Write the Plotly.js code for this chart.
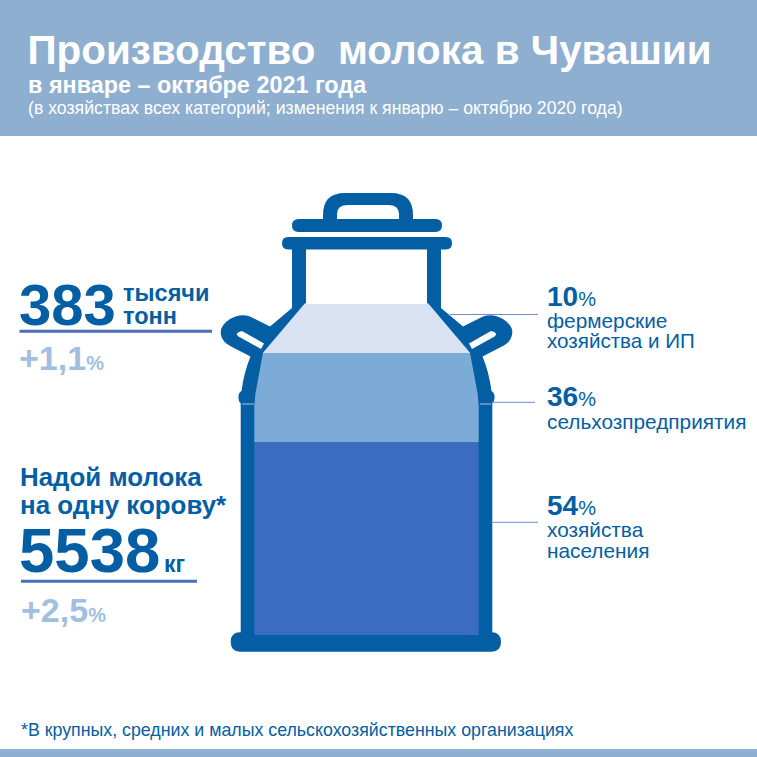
<!DOCTYPE html>
<html><head><meta charset="utf-8">
<script src="https://cdn.plot.ly/plotly-3.0.1.min.js"></script>
<style>html,body{margin:0;padding:0;background:#fff}#c{width:757px;height:757px}</style>
</head><body><div id="c"></div>
<script>
// --- data ---
const shareNames = [['хозяйства', 'населения'], ['сельхозпредприятия'], ['фермерские', 'хозяйства и ИП']];
const sharePercent = [54, 36, 10];
const bandDrawnHeights = [193.3, 89, 48.7]; // pictogram levels as drawn (not to scale in the source)
const bandColors = ['#3c6cc0', '#7dabd8', '#d9e2f3'];
const totalValue = '383', totalUnit = ['тысячи', 'тонн'], totalChange = '+1,1';
const yieldTitle = ['Надой молока', 'на одну корову*'];
const yieldValue = '5538', yieldUnit = 'кг', yieldChange = '+2,5';

const DARK = '#045ea3', HEAD = '#8eafd0', LIGHT = '#a1bfe0', RULE = '#4a6fb5', LEAD = '#6f8fcc';
const FONT = '"Liberation Sans", Arial, sans-serif';

const traces = sharePercent.map((p, i) => ({
  type: 'bar', x: [367.15], y: [bandDrawnHeights[i]], width: [225.7],
  marker: {color: bandColors[i], line: {width: 0}}, name: p + '%', hoverinfo: 'skip', showlegend: false
}));

function solid(path, color) {
  return {type: 'path', path, xref: 'x', yref: 'y2', fillcolor: color, line: {width: 0}, layer: 'above'};
}
function rect(x0, y0, x1, y1, color) {
  return {type: 'rect', xref: 'x', yref: 'y2', x0, y0, x1, y1, fillcolor: color, line: {width: 0}, layer: 'above'};
}
function rule(x0, x1, y, color, w) {
  return {type: 'line', xref: 'x', yref: 'y2', x0, x1, y0: y, y1: y, line: {color, width: w}, layer: 'above'};
}
function pill(x0, x1, y0, y1, color) {
  const r = (y1 - y0) / 2;
  return solid(`M${x0 + r},${y0} L${x1 - r},${y0} Q${x1},${y0} ${x1},${y0 + r} Q${x1},${y1} ${x1 - r},${y1} L${x0 + r},${y1} Q${x0},${y1} ${x0},${y0 + r} Q${x0},${y0} ${x0 + r},${y0} Z`, color);
}
// mirrored can sides around the vertical axis
const mx = x => +(733 - x).toFixed(1);
function sidePath(f) {
  return `M${f(292)},249 L${f(292)},308 L${f(270)},326.5 L${f(250)},316.5 Q${f(240)},313 ${f(230)},319 `
    + `Q${f(219)},326 ${f(221)},335 Q${f(222)},342 ${f(232)},347 L${f(250.5)},356.5 `
    + `Q${f(244)},372 ${f(241.5)},391 Q${f(238)},393 ${f(238.5)},398 Q${f(239)},403 ${f(240.7)},403 `
    + `L${f(240.7)},640 L${f(254.3)},640 L${f(254.3)},406 L${f(255.5)},393 L${f(263)},352.7 L${f(304.3)},304 L${f(306)},303 L${f(306)},249 Z`;
}
function slotPath(f) {
  return `M${f(242)},331 L${f(264)},343.5 L${f(261)},349 L${f(238.5)},336.5 Q${f(234)},333 ${f(242)},331 Z`;
}
function maskPath(f) {
  return `M${f(250)},303 L${f(304.3)},303 L${f(263)},352.7 L${f(250)},352.7 Z`;
}
const basePath = 'M240,632.3 L491.5,632.3 Q501,632.3 501,642 Q501,651.7 491.5,651.7 L240,651.7 Q230.7,651.7 230.7,642 Q230.7,632.3 240,632.3 Z';

const shapes = [
  rect(0, 0, 757, 136, HEAD),
  rect(0, 749, 757, 757, HEAD),
  solid(maskPath(x => x), '#ffffff'),
  solid(maskPath(mx), '#ffffff'),
  solid(basePath, DARK),
  // base plate reaches up to 632 only outside the walls: the lowest band shows down to 635
  rect(254.3, 632, 480, 635, bandColors[0]),
  solid(sidePath(x => x), DARK),
  solid(sidePath(mx), DARK),
  solid(slotPath(x => x), '#ffffff'),
  solid(slotPath(mx), '#ffffff'),
  // lid + knob
  solid('M323,222 L323,215 Q323,193 345,193 L391,193 Q413,193 413,215 L413,222 L399,222 L399,219 L399,214 Q399,205 388,205 L348,205 Q337,205 337,214 L337,222 Z', DARK),
  pill(292, 442, 219, 232, DARK),
  pill(282, 452, 237, 249.5, DARK),
  // seams on the can wall
  rule(242, 254, 404, '#a9c4dc', 1),
  rule(480, 491, 404, '#a9c4dc', 1),
  // leaders and underlines
  rule(450, 538, 314.5, LEAD, 1),
  rule(492, 535, 402.3, LEAD, 1),
  rule(491.5, 538, 522.3, LEAD, 1),
  rule(19.5, 212, 331.3, RULE, 3),
  rule(21, 197, 581.3, RULE, 3)
];

function t(x, y, text, size, color, bold) {
  return {xref: 'x', yref: 'y2', x, y, xanchor: 'left', yanchor: 'middle', showarrow: false, align: 'left', borderpad: 0,
    text: bold ? `<b>${text}</b>` : text, font: {family: FONT, size, color}};
}
const pct = (n, s2) => `<b>${n}</b><span style="font-size:${s2}px">%</span>`;

const annotations = [
  t(27, 85, 'в январе – октябре 2021 года', 23.4, '#ffffff', true),
  t(27, 108, '(в хозяйствах всех категорий; изменения к январю – октябрю 2020 года)', 17.7, '#ffffff', false),

  t(18, 304, totalValue, 58, DARK, true),
  t(121.5, 293, totalUnit[0], 23.5, DARK, true),
  t(121.5, 316, totalUnit[1], 23.5, DARK, true),
  t(18, 358, `<b>${totalChange}</b><span style="font-size:20px"><b>%</b></span>`, 34, LIGHT, false),

  t(19, 477, yieldTitle[0], 25.9, DARK, true),
  t(19, 505, yieldTitle[1], 25.9, DARK, true),
  t(18, 550, yieldValue, 63.5, DARK, true),
  t(162.5, 564, yieldUnit, 23, DARK, true),
  t(20, 610, `<b>${yieldChange}</b><span style="font-size:20px"><b>%</b></span>`, 34, LIGHT, false),

  t(546, 296, pct(sharePercent[2], 20), 28, DARK, false),
  t(546, 320, shareNames[2][0], 20.8, DARK, false),
  t(546, 340, shareNames[2][1], 20.6, DARK, false),
  t(546, 396, pct(sharePercent[1], 20), 28, DARK, false),
  t(546, 421, shareNames[1][0], 20.8, DARK, false),
  t(546, 505, pct(sharePercent[0], 20), 28, DARK, false),
  t(546, 529, shareNames[0][0], 20.8, DARK, false),
  t(546, 550, shareNames[0][1], 20.8, DARK, false),

  t(20, 730, '*В крупных, средних и малых сельскохозяйственных организациях', 17.8, DARK, false)
];

const layout = {
  width: 757, height: 757, autosize: false,
  margin: {l: 0, r: 0, t: 0, b: 0, pad: 0},
  paper_bgcolor: '#ffffff', plot_bgcolor: '#ffffff',
  barmode: 'stack', showlegend: false,
  title: {text: '<b>Производство  молока в Чувашии</b>', x: 27.5 / 757, xanchor: 'left', y: 1 - 50 / 757, yanchor: 'middle', yref: 'container',
    font: {family: FONT, size: 40.4, color: '#ffffff'}},
  xaxis: {range: [0, 757], visible: false, fixedrange: true},
  yaxis: {range: [-122, 635], visible: false, fixedrange: true},
  yaxis2: {range: [757, 0], visible: false, overlaying: 'y', fixedrange: true},
  shapes, annotations
};
Plotly.newPlot('c', traces, layout, {displayModeBar: false, staticPlot: true});
</script></body></html>
